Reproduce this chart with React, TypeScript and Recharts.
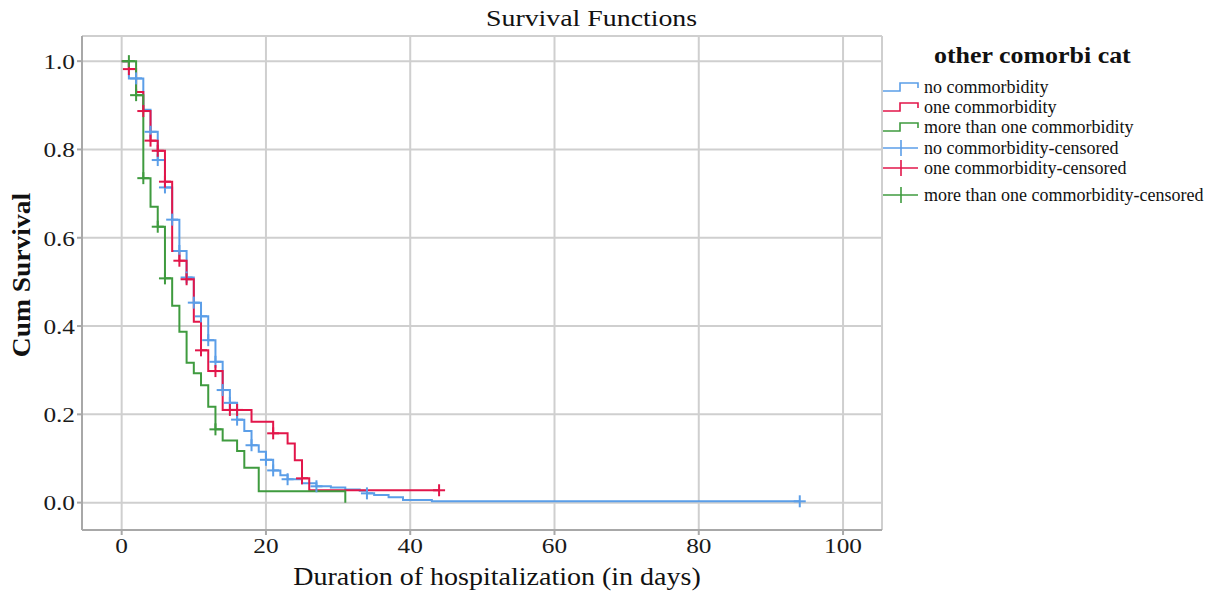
import { ComposedChart, Line, Scatter, XAxis, YAxis, CartesianGrid } from 'recharts'

const xTicks = [0, 20, 40, 60, 80, 100]
const yTicks = [0, 0.2, 0.4, 0.6, 0.8, 1.0]

// no commorbidity
const noTimes = [0, 1, 3, 4, 5, 6, 7, 8, 9, 10, 11, 12, 13, 14, 15, 16, 17, 18, 19, 20, 21, 22, 23, 25, 27, 29, 31, 33, 34, 35, 37, 39, 43, 94]
const noSurv = [1.0, 0.961, 0.89, 0.84, 0.776, 0.714, 0.641, 0.57, 0.51, 0.453, 0.422, 0.368, 0.319, 0.255, 0.226, 0.188, 0.162, 0.13, 0.115, 0.097, 0.073, 0.062, 0.053, 0.044, 0.037, 0.034, 0.03, 0.027, 0.021, 0.017, 0.012, 0.006, 0.003, 0.003]
const noCensored = [2, 4, 5, 6, 7, 8, 9, 10, 11, 12, 13, 14, 15, 16, 18, 20, 21, 23, 27, 34, 94]

// one commorbidity
const oneTimes = [0, 1, 2, 3, 4, 5, 6, 7, 8, 9, 10, 11, 12, 14, 18, 21, 23, 24, 25, 26, 44]
const oneSurv = [1.0, 0.982, 0.93, 0.887, 0.82, 0.797, 0.727, 0.57, 0.548, 0.506, 0.41, 0.345, 0.298, 0.21, 0.183, 0.157, 0.134, 0.096, 0.055, 0.028, 0.028]
const oneCensored = [1, 3, 4, 5, 6, 8, 9, 11, 13, 15, 16, 21, 25, 44]

// more than one commorbidity
const moreTimes = [0, 2, 3, 4, 5, 6, 7, 8, 9, 10, 11, 12, 13, 14, 16, 17, 19, 31]
const moreSurv = [1.0, 0.923, 0.735, 0.67, 0.625, 0.508, 0.446, 0.387, 0.317, 0.293, 0.266, 0.217, 0.166, 0.141, 0.117, 0.079, 0.026, 0]
const moreCensored = [1, 2, 3, 5, 6, 13]

const BLUE = '#5b9ee8'
const RED = '#e2164a'
const GREEN = '#3f9b3f'
const FONT = '"Liberation Serif", "DejaVu Serif", serif'

const toSteps = (times: number[], surv: number[]) => times.map((t, i) => ({ t, s: surv[i] }))

const survAt = (times: number[], surv: number[], t: number) => {
  let s = surv[0]
  times.forEach((tt, i) => {
    if (tt <= t) s = surv[i]
  })
  return s
}

const toMarks = (times: number[], surv: number[], cens: number[]) =>
  cens.map(t => ({ t, s: survAt(times, surv, t) }))

const crossShape = (color: string) => (props: any) => {
  const { cx, cy } = props
  return (
    <g stroke={color} strokeWidth={2}>
      <line x1={cx - 6} y1={cy} x2={cx + 6} y2={cy} />
      <line x1={cx} y1={cy - 6} x2={cx} y2={cy + 6} />
    </g>
  )
}

// the source text is drawn a little wide, so ticks get a horizontal stretch
const XTick = (props: any) => {
  const { x, y, payload } = props
  return (
    <text transform={`translate(${x},${y}) scale(1.15,1)`} textAnchor="middle" dy="0.71em" fill="#1a1a1a" fontSize={22} fontFamily={FONT}>
      {payload.value}
    </text>
  )
}

const YTick = (props: any) => {
  const { x, y, payload } = props
  return (
    <text transform={`translate(${x},${y}) scale(1.15,1)`} textAnchor="end" dy="0.355em" fill="#1a1a1a" fontSize={22} fontFamily={FONT}>
      {Number(payload.value).toFixed(1)}
    </text>
  )
}

const legendItems = [
  { label: 'no commorbidity', color: BLUE, kind: 'line' },
  { label: 'one commorbidity', color: RED, kind: 'line' },
  { label: 'more than one commorbidity', color: GREEN, kind: 'line' },
  { label: 'no commorbidity-censored', color: BLUE, kind: 'cross' },
  { label: 'one commorbidity-censored', color: RED, kind: 'cross' },
  { label: 'more than one commorbidity-censored', color: GREEN, kind: 'cross' }
]
const legendRows = [87, 107, 127, 148, 168, 195]

export default function App() {
  return (
    <div style={{ position: 'absolute', left: 0, top: 0, width: 1217, height: 591, background: '#fff', fontFamily: FONT }}>
      <ComposedChart width={1217} height={591} margin={{ top: 36, right: 335, bottom: 0, left: 0 }}>
        <CartesianGrid stroke="#cfcfcf" strokeWidth={2} />
        <XAxis
          type="number"
          dataKey="t"
          domain={[-5.5, 105.4]}
          ticks={xTicks}
          allowDataOverflow
          height={61}
          tickSize={5}
          stroke="#a8a8a8"
          strokeWidth={2}
          tick={<XTick />}
        />
        <YAxis
          type="number"
          domain={[-0.062, 1.057]}
          ticks={yTicks}
          allowDataOverflow
          width={82}
          tickSize={5}
          stroke="#a8a8a8"
          strokeWidth={2}
          tick={<YTick />}
        />
        <Line data={toSteps(noTimes, noSurv)} dataKey="s" type="stepAfter" stroke={BLUE} strokeWidth={2} dot={false} isAnimationActive={false} />
        <Line data={toSteps(oneTimes, oneSurv)} dataKey="s" type="stepAfter" stroke={RED} strokeWidth={2} dot={false} isAnimationActive={false} />
        <Line data={toSteps(moreTimes, moreSurv)} dataKey="s" type="stepAfter" stroke={GREEN} strokeWidth={2} dot={false} isAnimationActive={false} />
        <Scatter data={toMarks(noTimes, noSurv, noCensored)} dataKey="s" shape={crossShape(BLUE)} isAnimationActive={false} />
        <Scatter data={toMarks(oneTimes, oneSurv, oneCensored)} dataKey="s" shape={crossShape(RED)} isAnimationActive={false} />
        <Scatter data={toMarks(moreTimes, moreSurv, moreCensored)} dataKey="s" shape={crossShape(GREEN)} isAnimationActive={false} />
      </ComposedChart>

      <div style={{ position: 'absolute', left: 0, width: 1183, top: 5, textAlign: 'center', fontSize: 24, color: '#111', transform: 'scaleX(1.16)', transformOrigin: '591px 0' }}>
        Survival Functions
      </div>
      <div style={{ position: 'absolute', left: 82, width: 830, top: 563, textAlign: 'center', fontSize: 25, color: '#111', transform: 'scaleX(1.12)', transformOrigin: '415px 0' }}>
        Duration of hospitalization (in days)
      </div>
      <div
        style={{
          position: 'absolute', left: 22, top: 275, transform: 'translate(-50%, -50%) rotate(-90deg) scaleX(1.1)',
          whiteSpace: 'nowrap', fontSize: 25, fontWeight: 'bold', color: '#111'
        }}
      >
        Cum Survival
      </div>

      <div style={{ position: 'absolute', left: 934, top: 42, fontSize: 24, fontWeight: 'bold', color: '#111', whiteSpace: 'nowrap', transform: 'scaleX(1.08)', transformOrigin: '0 0' }}>
        other comorbi cat
      </div>
      {legendItems.map((item, i) => (
        <div key={item.label} style={{ position: 'absolute', left: 883, top: legendRows[i] - 11, height: 22, display: 'flex', alignItems: 'center', whiteSpace: 'nowrap' }}>
          <svg width={38} height={22}>
            {item.kind === 'line' ? (
              <path d="M0 15 H17 V7 H35 V12" fill="none" stroke={item.color} strokeWidth={1.6} />
            ) : (
              <g stroke={item.color} strokeWidth={1.6}>
                <line x1={0} y1={11} x2={35} y2={11} />
                <line x1={18} y1={3} x2={18} y2={19} />
              </g>
            )}
          </svg>
          <span style={{ marginLeft: 3, fontSize: 18, color: '#111' }}>{item.label}</span>
        </div>
      ))}
    </div>
  )
}
